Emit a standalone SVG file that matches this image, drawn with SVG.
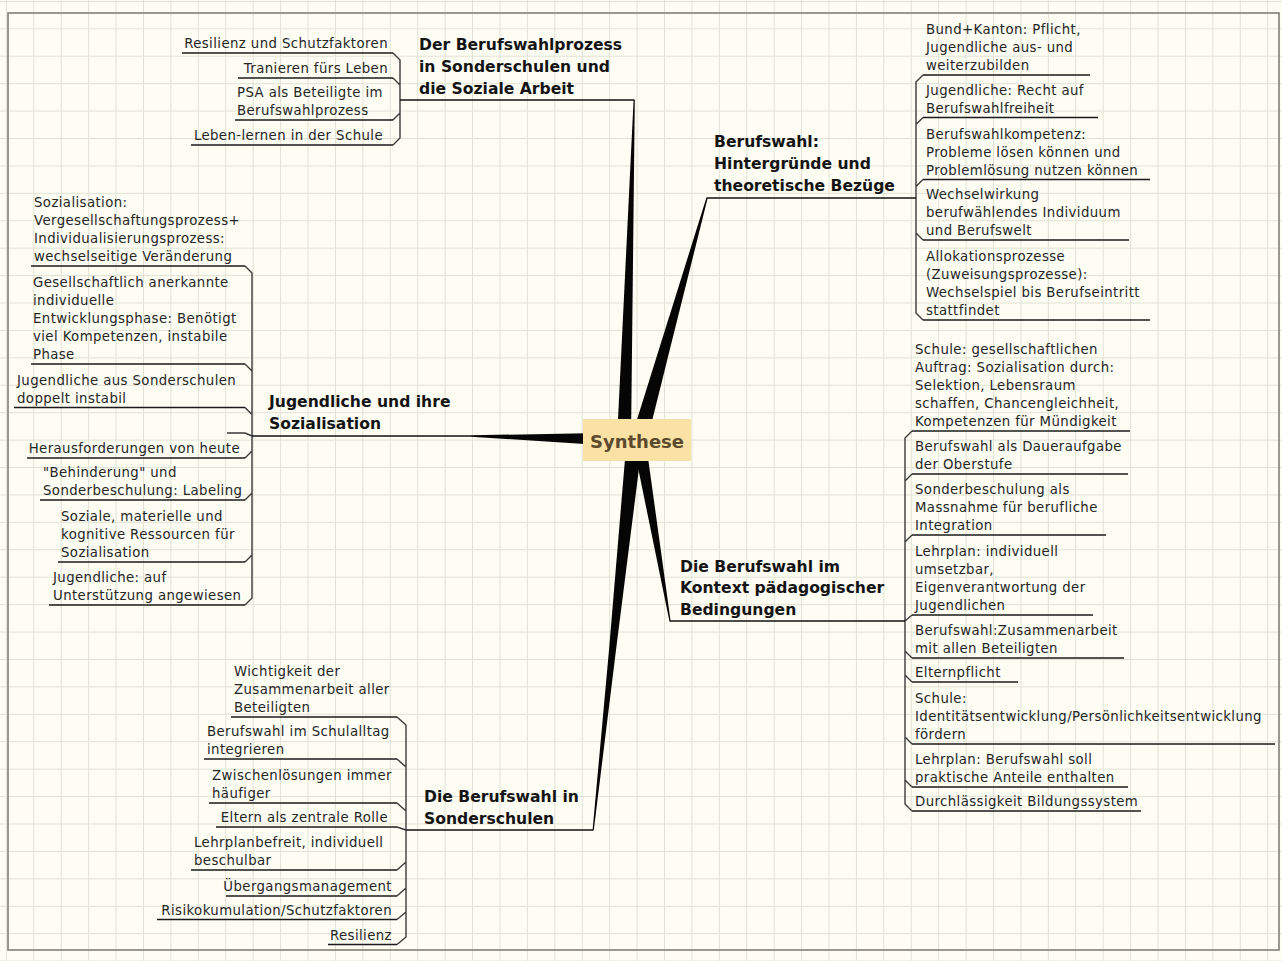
<svg xmlns="http://www.w3.org/2000/svg" width="1282" height="961" viewBox="0 0 1282 961">
<defs>
  <pattern id="grid" patternUnits="userSpaceOnUse" x="5.9" y="0.9" width="27.42" height="27.42">
    <path d="M0.5,0 V27.42 M0,0.5 H27.42" stroke="#e1e2d4" stroke-width="1" fill="none"/>
  </pattern>
  <style>
    .c{font-family:"DejaVu Sans","Liberation Sans",sans-serif;font-size:13.3px;letter-spacing:0.4px;fill:#262626}
    .e{text-anchor:end}
    .t{font-family:"DejaVu Sans","Liberation Sans",sans-serif;font-size:15.6px;font-weight:bold;fill:#141414}
    .u{stroke:#1a1a1a;stroke-width:1.3;fill:none}
    .pu{stroke:#111;stroke-width:1.5;fill:none}
    .k{stroke:#3a3a3a;stroke-width:1.4;fill:none;stroke-linejoin:round}
    .w{fill:#050505}
  </style>
</defs>

<!-- paper with grid and frame -->
<rect x="0" y="0" width="1282" height="961" fill="#fdfdf4"/>
<rect x="0" y="0" width="1282" height="961" fill="url(#grid)"/>
<rect x="8" y="13" width="1271" height="937" fill="none" stroke="#808076" stroke-width="1.6"/>

<!-- connectors: tapered main branches and child brackets -->
<g id="connectors">
  <polygon class="w" points="617,440 631,440 634.8,100 633.6,100"/>
  <polygon class="w" points="631.3,437.8 646.7,442.2 707.6,198.2 706.4,197.8"/>
  <polygon class="w" points="600,433 600,445 471,436.7 471,435.3"/>
  <polygon class="w" points="626.6,440 609,650 592.6,830 593.8,830 616,650 642.6,440"/>
  <polygon class="w" points="632.6,441.1 645.4,438.9 670.6,620.9 669.4,621.1"/>

  <path class="k" d="M400,100 V60 L393,53 M400,100 V85 L393,78 M400,100 V113 L393,120 M400,100 V138 L393,145"/>
  <path class="k" d="M916,198 V82 L923,75 M916,198 V124.5 L923,117.5 M916,198 V186.5 L923,179.5 M916,198 V233 L923,240 M916,198 V313 L923,320"/>
  <path class="k" d="M252,436 V273 L245,266 M252,436 V371 L245,364 M252,436 V414.5 L245,407.5 M252,436 L245,433 M252,436 V451 L245,458 M252,436 V493 L245,500 M252,436 V555 L245,562 M252,436 V598 L245,605"/>
  <path class="k" d="M406,830 V725 L397,717 M406,830 V767 L397,759 M406,830 V811 L397,803 M406,830 L397,827 M406,830 V862 L397,870 M406,830 V888 L397,896 M406,830 V912 L397,919.5 M406,830 V937 L397,944.5"/>
  <path class="k" d="M905,621 V438 L912,431 M905,621 V481 L912,474 M905,621 V542 L912,535 M905,621 L912,615 M905,621 V651 L912,658 M905,621 V675 L912,682 M905,621 V737 L912,744 M905,621 V780 L912,787 M905,621 V804 L912,811"/>
</g>

<!-- central topic -->
<g id="synthese">
  <rect x="583" y="419" width="108" height="42" fill="#fbe2a4"/>
  <text x="637" y="448" text-anchor="middle" font-family="DejaVu Sans, sans-serif" font-size="18" font-weight="bold" fill="#5b4a2e">Synthese</text>
</g>

<!-- branch: Berufswahlprozess / Soziale Arbeit -->
<g id="topic-prozess">
  <path class="pu" d="M400,100 H634.5"/>
  <text class="t"><tspan x="419" y="50">Der Berufswahlprozess</tspan><tspan x="419" y="72">in Sonderschulen und</tspan><tspan x="419" y="93.5">die Soziale Arbeit</tspan></text>
</g>
<g id="prozess-1"><path class="u" d="M182,53 H393"/><text class="c e" x="388" y="48">Resilienz und Schutzfaktoren</text></g>
<g id="prozess-2"><path class="u" d="M238,78 H393"/><text class="c e" x="388" y="73">Tranieren fürs Leben</text></g>
<g id="prozess-3"><path class="u" d="M235,120 H393"/><text class="c"><tspan x="237" y="97">PSA als Beteiligte im</tspan><tspan x="237" y="115">Berufswahlprozess</tspan></text></g>
<g id="prozess-4"><path class="u" d="M191,145 H393"/><text class="c e" x="383" y="140">Leben-lernen in der Schule</text></g>

<!-- branch: Hintergründe -->
<g id="topic-hintergruende">
  <path class="pu" d="M706.5,198 H916"/>
  <text class="t"><tspan x="714" y="147">Berufswahl:</tspan><tspan x="714" y="169">Hintergründe und</tspan><tspan x="714" y="191">theoretische Bezüge</tspan></text>
</g>
<g id="hint-1"><path class="u" d="M923,75 H1090"/><text class="c"><tspan x="926" y="34">Bund+Kanton: Pflicht,</tspan><tspan x="926" y="52">Jugendliche aus- und</tspan><tspan x="926" y="70">weiterzubilden</tspan></text></g>
<g id="hint-2"><path class="u" d="M923,117.5 H1098"/><text class="c"><tspan x="926" y="94.5">Jugendliche: Recht auf</tspan><tspan x="926" y="112.5">Berufswahlfreiheit</tspan></text></g>
<g id="hint-3"><path class="u" d="M923,179.5 H1150"/><text class="c"><tspan x="926" y="138.5">Berufswahlkompetenz:</tspan><tspan x="926" y="156.5">Probleme lösen können und</tspan><tspan x="926" y="174.5">Problemlösung nutzen können</tspan></text></g>
<g id="hint-4"><path class="u" d="M923,240 H1129"/><text class="c"><tspan x="926" y="199">Wechselwirkung</tspan><tspan x="926" y="217">berufwählendes Individuum</tspan><tspan x="926" y="235">und Berufswelt</tspan></text></g>
<g id="hint-5"><path class="u" d="M923,320 H1150"/><text class="c"><tspan x="926" y="261">Allokationsprozesse</tspan><tspan x="926" y="279">(Zuweisungsprozesse):</tspan><tspan x="926" y="297">Wechselspiel bis Berufseintritt</tspan><tspan x="926" y="315">stattfindet</tspan></text></g>

<!-- branch: Jugendliche und Sozialisation -->
<g id="topic-sozialisation">
  <path class="pu" d="M252,436 H471"/>
  <text class="t"><tspan x="269" y="407">Jugendliche und ihre</tspan><tspan x="269" y="429">Sozialisation</tspan></text>
</g>
<g id="soz-1"><path class="u" d="M31,266 H245"/><text class="c"><tspan x="34" y="207">Sozialisation:</tspan><tspan x="34" y="225">Vergesellschaftungsprozess+</tspan><tspan x="34" y="243">Individualisierungsprozess:</tspan><tspan x="34" y="261">wechselseitige Veränderung</tspan></text></g>
<g id="soz-2"><path class="u" d="M31,364 H245"/><text class="c"><tspan x="33" y="287">Gesellschaftlich anerkannte</tspan><tspan x="33" y="305">individuelle</tspan><tspan x="33" y="323">Entwicklungsphase: Benötigt</tspan><tspan x="33" y="341">viel Kompetenzen, instabile</tspan><tspan x="33" y="359">Phase</tspan></text></g>
<g id="soz-3"><path class="u" d="M14,407.5 H245"/><text class="c"><tspan x="17" y="384.5">Jugendliche aus Sonderschulen</tspan><tspan x="17" y="402.5">doppelt instabil</tspan></text></g>
<g id="soz-4"><path class="u" d="M227,433 H245"/></g>
<g id="soz-5"><path class="u" d="M27,458 H245"/><text class="c e" x="240" y="453">Herausforderungen von heute</text></g>
<g id="soz-6"><path class="u" d="M40,500 H245"/><text class="c"><tspan x="43" y="477">"Behinderung" und</tspan><tspan x="43" y="495">Sonderbeschulung: Labeling</tspan></text></g>
<g id="soz-7"><path class="u" d="M58,562 H245"/><text class="c"><tspan x="61" y="521">Soziale, materielle und</tspan><tspan x="61" y="539">kognitive Ressourcen für</tspan><tspan x="61" y="557">Sozialisation</tspan></text></g>
<g id="soz-8"><path class="u" d="M49,605 H245"/><text class="c"><tspan x="53" y="582">Jugendliche: auf</tspan><tspan x="53" y="600">Unterstützung angewiesen</tspan></text></g>

<!-- branch: Berufswahl in Sonderschulen -->
<g id="topic-sonderschulen">
  <path class="pu" d="M406,830 H593.5"/>
  <text class="t"><tspan x="424" y="802">Die Berufswahl in</tspan><tspan x="424" y="824">Sonderschulen</tspan></text>
</g>
<g id="sond-1"><path class="u" d="M231,717 H397"/><text class="c"><tspan x="234" y="676">Wichtigkeit der</tspan><tspan x="234" y="694">Zusammenarbeit aller</tspan><tspan x="234" y="712">Beteiligten</tspan></text></g>
<g id="sond-2"><path class="u" d="M204,759 H397"/><text class="c"><tspan x="207" y="736">Berufswahl im Schulalltag</tspan><tspan x="207" y="754">integrieren</tspan></text></g>
<g id="sond-3"><path class="u" d="M209,803 H397"/><text class="c"><tspan x="212" y="780">Zwischenlösungen immer</tspan><tspan x="212" y="798">häufiger</tspan></text></g>
<g id="sond-4"><path class="u" d="M216,827 H397"/><text class="c e" x="388" y="822">Eltern als zentrale Rolle</text></g>
<g id="sond-5"><path class="u" d="M191,870 H397"/><text class="c"><tspan x="194" y="847">Lehrplanbefreit, individuell</tspan><tspan x="194" y="865">beschulbar</tspan></text></g>
<g id="sond-6"><path class="u" d="M226,896 H397"/><text class="c e" x="392" y="891">Übergangsmanagement</text></g>
<g id="sond-7"><path class="u" d="M157,919.5 H397"/><text class="c e" x="392" y="914.5">Risikokumulation/Schutzfaktoren</text></g>
<g id="sond-8"><path class="u" d="M328,944.5 H397"/><text class="c e" x="392" y="939.5">Resilienz</text></g>

<!-- branch: pädagogischer Kontext -->
<g id="topic-kontext">
  <path class="pu" d="M669.5,621 H905"/>
  <text class="t"><tspan x="680" y="571.5">Die Berufswahl im</tspan><tspan x="680" y="593">Kontext pädagogischer</tspan><tspan x="680" y="614.5">Bedingungen</tspan></text>
</g>
<g id="kont-1"><path class="u" d="M912,431 H1130"/><text class="c"><tspan x="915" y="354">Schule: gesellschaftlichen</tspan><tspan x="915" y="372">Auftrag: Sozialisation durch:</tspan><tspan x="915" y="390">Selektion, Lebensraum</tspan><tspan x="915" y="408">schaffen, Chancengleichheit,</tspan><tspan x="915" y="426">Kompetenzen für Mündigkeit</tspan></text></g>
<g id="kont-2"><path class="u" d="M912,474 H1128"/><text class="c"><tspan x="915" y="451">Berufswahl als Daueraufgabe</tspan><tspan x="915" y="469">der Oberstufe</tspan></text></g>
<g id="kont-3"><path class="u" d="M912,535 H1106"/><text class="c"><tspan x="915" y="494">Sonderbeschulung als</tspan><tspan x="915" y="512">Massnahme für berufliche</tspan><tspan x="915" y="530">Integration</tspan></text></g>
<g id="kont-4"><path class="u" d="M912,615 H1093"/><text class="c"><tspan x="915" y="556">Lehrplan: individuell</tspan><tspan x="915" y="574">umsetzbar,</tspan><tspan x="915" y="592">Eigenverantwortung der</tspan><tspan x="915" y="610">Jugendlichen</tspan></text></g>
<g id="kont-5"><path class="u" d="M912,658 H1124"/><text class="c"><tspan x="915" y="635">Berufswahl:Zusammenarbeit</tspan><tspan x="915" y="653">mit allen Beteiligten</tspan></text></g>
<g id="kont-6"><path class="u" d="M912,682 H1018"/><text class="c" x="915" y="677">Elternpflicht</text></g>
<g id="kont-7"><path class="u" d="M912,744 H1275"/><text class="c"><tspan x="915" y="703">Schule:</tspan><tspan x="915" y="721">Identitätsentwicklung/Persönlichkeitsentwicklung</tspan><tspan x="915" y="739">fördern</tspan></text></g>
<g id="kont-8"><path class="u" d="M912,787 H1128"/><text class="c"><tspan x="915" y="764">Lehrplan: Berufswahl soll</tspan><tspan x="915" y="782">praktische Anteile enthalten</tspan></text></g>
<g id="kont-9"><path class="u" d="M912,811 H1141"/><text class="c" x="915" y="806">Durchlässigkeit Bildungssystem</text></g>
</svg>
